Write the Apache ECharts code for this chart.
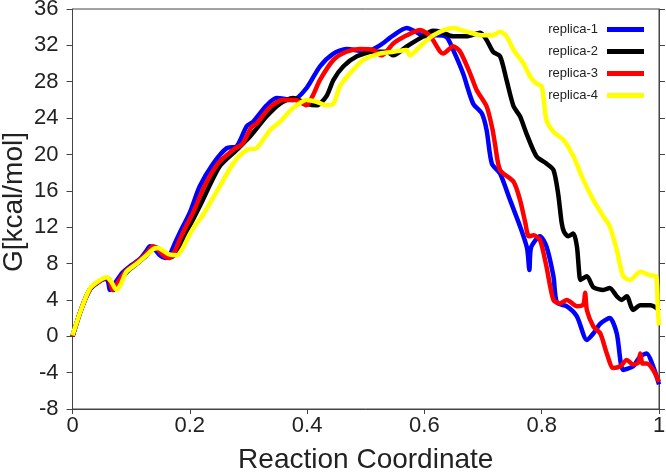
<!DOCTYPE html>
<html><head><meta charset="utf-8">
<script src="https://cdn.jsdelivr.net/npm/echarts@6/dist/echarts.min.js"></script>
<style>html,body{margin:0;padding:0;background:#fff}#c{width:666px;height:472px}</style>
</head><body><div id="c"></div>
<script>
const seriesNames = ['replica-1','replica-2','replica-3','replica-4'];
const xTicks = [0,0.2,0.4,0.6,0.8,1];
const yTicks = [-8,-4,0,4,8,12,16,20,24,28,32,36];

const replica1 = [[0,0],[0.015,3],[0.03,5.2],[0.045,6],[0.055,6.3],[0.06,6.2],[0.064,5.1],[0.07,5.6],[0.085,7],[0.1,7.8],[0.115,8.5],[0.125,9.3],[0.132,9.9],[0.14,9.6],[0.149,8.9],[0.158,8.6],[0.166,9],[0.175,10.3],[0.183,11.4],[0.2,13.6],[0.217,16.5],[0.24,19],[0.263,20.7],[0.28,20.9],[0.297,23.1],[0.308,23.6],[0.331,25.4],[0.348,26.2],[0.376,26],[0.399,27.3],[0.422,29.7],[0.445,31.1],[0.467,31.6],[0.5,31.3],[0.524,32],[0.547,33.1],[0.57,33.9],[0.585,33.5],[0.6,33],[0.62,33.1],[0.638,32.9],[0.649,31.5],[0.666,28.9],[0.683,25.6],[0.698,24.5],[0.706,22.7],[0.715,19],[0.729,17.9],[0.746,15],[0.763,12.1],[0.775,9.7],[0.779,7.3],[0.782,9.8],[0.797,11],[0.808,9.9],[0.82,6.6],[0.826,3.7],[0.843,3.3],[0.86,2.2],[0.877,-0.4],[0.888,0.3],[0.9,1.4],[0.916,2.0],[0.928,0.3],[0.939,-3.7],[0.956,-3.3],[0.968,-2.2],[0.979,-1.9],[0.99,-3.3],[1,-5.3]];

const replica2 = [[0,0],[0.015,3],[0.03,5.2],[0.045,6],[0.058,6.4],[0.065,6],[0.07,5.1],[0.078,5.8],[0.093,7.1],[0.108,7.9],[0.123,8.7],[0.133,9.4],[0.141,9.8],[0.15,9.5],[0.16,8.9],[0.168,8.7],[0.176,9.1],[0.188,10.6],[0.197,11.8],[0.217,14.3],[0.251,18.7],[0.28,20.5],[0.303,22],[0.331,24.2],[0.354,25.6],[0.376,26.2],[0.399,25.6],[0.416,25.4],[0.433,26.4],[0.445,28.2],[0.462,29.7],[0.485,30.8],[0.513,31.3],[0.536,31.3],[0.547,30.9],[0.57,31.9],[0.593,32.8],[0.615,33.6],[0.627,33.5],[0.649,33],[0.672,33],[0.695,33.4],[0.706,32.6],[0.717,31.3],[0.729,30.8],[0.74,28.2],[0.752,25.3],[0.763,24.2],[0.774,22.3],[0.791,19.8],[0.808,19],[0.82,18.3],[0.828,15.7],[0.834,12.5],[0.838,11.5],[0.845,11],[0.854,11.3],[0.86,9.9],[0.864,6.9],[0.866,6.2],[0.877,6.6],[0.888,5.4],[0.905,5.1],[0.916,5.3],[0.928,4.4],[0.936,4.0],[0.945,4.4],[0.956,2.9],[0.968,3.4],[0.985,3.4],[0.996,3.1],[1,2.8]];

const replica3 = [[0,0],[0.015,3],[0.03,5.2],[0.045,6],[0.057,6.4],[0.063,6.2],[0.068,5.1],[0.075,5.7],[0.09,7.1],[0.105,7.9],[0.12,8.7],[0.13,9.4],[0.137,9.9],[0.145,9.6],[0.155,8.9],[0.164,8.6],[0.172,9],[0.182,10.5],[0.19,11.6],[0.207,13.8],[0.225,16.5],[0.248,19],[0.274,20.5],[0.29,21.2],[0.305,23],[0.314,23.4],[0.337,25.2],[0.359,26],[0.38,26],[0.399,25.4],[0.41,26.5],[0.422,28.2],[0.445,30.4],[0.467,31.3],[0.49,31.6],[0.513,31.5],[0.527,30.9],[0.547,32.2],[0.57,33.1],[0.593,33.7],[0.61,33],[0.627,31.3],[0.632,31.1],[0.649,31.9],[0.661,31.3],[0.678,28.9],[0.689,27.1],[0.706,25.3],[0.716,22.8],[0.72,21.3],[0.729,18.3],[0.752,17],[0.763,15],[0.772,12.5],[0.778,11],[0.786,11.1],[0.797,10.6],[0.808,7.7],[0.82,4],[0.831,3.6],[0.843,4],[0.86,3.3],[0.871,3.5],[0.874,4.8],[0.877,2.9],[0.888,1.1],[0.9,0.3],[0.911,-1.9],[0.922,-3.5],[0.934,-3.3],[0.945,-2.6],[0.956,-3.1],[0.965,-2.9],[0.968,-1.9],[0.972,-3],[0.979,-3.0],[0.99,-3.7],[1,-5.0]];

const replica4 = [[0,0.1],[0.015,3],[0.03,5.3],[0.045,6.1],[0.058,6.5],[0.066,6],[0.075,5.1],[0.083,5.8],[0.092,7.1],[0.11,8],[0.126,8.9],[0.138,9.6],[0.146,9.7],[0.155,9.4],[0.165,9],[0.178,8.9],[0.188,9.7],[0.198,11],[0.207,12],[0.223,13.4],[0.251,16.5],[0.274,19],[0.297,20.5],[0.314,20.7],[0.337,22.7],[0.354,23.6],[0.376,25.1],[0.399,26],[0.416,25.8],[0.433,25.4],[0.445,25.6],[0.456,27.5],[0.473,28.9],[0.496,30.4],[0.524,31.1],[0.547,31.3],[0.57,31.5],[0.575,30.9],[0.593,31.9],[0.615,33.1],[0.649,33.9],[0.672,33.5],[0.7,33.1],[0.717,33.1],[0.729,33.5],[0.74,33],[0.752,31.5],[0.769,30],[0.78,28.6],[0.791,27.8],[0.8,27.5],[0.808,23.8],[0.82,22.5],[0.837,21.6],[0.854,19.8],[0.871,17.2],[0.888,15],[0.905,13.2],[0.916,12.1],[0.928,9.5],[0.939,6.6],[0.951,6.2],[0.968,7.1],[0.985,6.7],[0.995,6.6],[0.998,3],[1,1.2]];

const seriesData = [replica1, replica2, replica3, replica4];
const colors = ['#0000ff','#000000','#ff0000','#ffff00'];

const font = '"Liberation Sans", Arial, Helvetica, sans-serif';
const axisColor = '#444';
const chart = echarts.init(document.getElementById('c'), null, {renderer:'canvas'});
chart.setOption({
  animation: false,
  backgroundColor: '#fff',
  grid: {left: 72.5, right: 7, top: 9, bottom: 63, show: true, borderColor: axisColor, borderWidth: 1,
    backgroundColor: 'transparent', containLabel: false, outerBoundsMode: 'none'},
  legend: {
    orient: 'vertical', right: 17, top: 18, align: 'right',
    itemWidth: 37, itemHeight: 5, itemGap: 9,
    icon: 'rect',
    textStyle: {fontFamily: font, fontSize: 13, color: '#222', padding: [0,4,0,0]},
    data: seriesNames
  },
  xAxis: {
    type: 'value', min: xTicks[0], max: xTicks[xTicks.length-1], interval: 0.2,
    name: 'Reaction Coordinate', nameLocation: 'middle', nameGap: 37, nameMoveOverlap: false,
    nameTextStyle: {fontFamily: font, fontSize: 28, color: '#222'},
    axisLine: {show: true, onZero: false, lineStyle: {color: axisColor, width: 1}},
    axisTick: {show: true, length: 5, inside: false, lineStyle: {color: axisColor}},
    axisLabel: {fontFamily: font, fontSize: 22, color: '#222', margin: 6,
      formatter: v => xTicks.includes(+v.toFixed(1)) ? String(+v.toFixed(1)) : ''},
    splitLine: {show: false}
  },
  yAxis: [{
    type: 'value', min: yTicks[0], max: yTicks[yTicks.length-1], interval: 4,
    name: 'G[kcal/mol]', nameLocation: 'middle', nameGap: 44, nameRotate: 90, nameMoveOverlap: false,
    nameTextStyle: {fontFamily: font, fontSize: 28, color: '#222', padding: [0,0,0,14]},
    axisLine: {show: true, onZero: false, lineStyle: {color: axisColor, width: 1}},
    axisTick: {show: true, length: 6, lineStyle: {color: axisColor}},
    axisLabel: {fontFamily: font, fontSize: 22, color: '#222', margin: 14},
    splitLine: {show: false}
  },{
    type: 'value', position: 'right', min: yTicks[0], max: yTicks[yTicks.length-1], interval: 4,
    axisLine: {show: true, onZero: false, lineStyle: {color: axisColor, width: 1}},
    axisTick: {show: true, length: 6, lineStyle: {color: axisColor}},
    axisLabel: {show: false},
    splitLine: {show: false}
  }],
  series: seriesNames.map((n,i) => ({
    name: n, type: 'line', data: seriesData[i], showSymbol: false, symbol: 'none',
    smooth: 0.25, clip: true,
    lineStyle: {color: colors[i], width: 4.5},
    itemStyle: {color: colors[i]}
  }))
});
</script></body></html>
